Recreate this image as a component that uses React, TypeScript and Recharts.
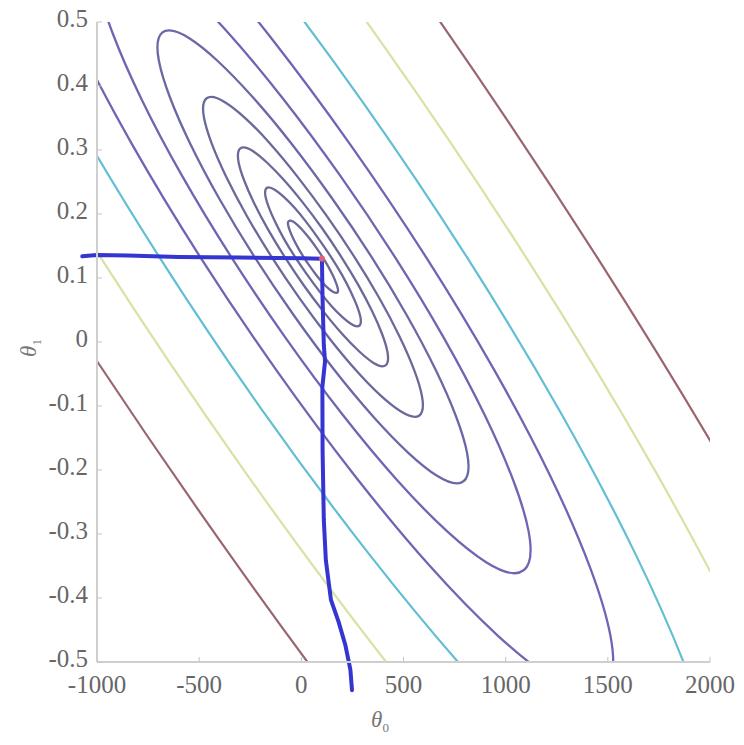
import { ComposedChart, Line, XAxis, YAxis, ReferenceDot } from "recharts";

// theta0 / theta1 points
const xTicks = [-1000, -500, 0, 500, 1000, 1500, 2000];
const yTicks = [-0.5, -0.4, -0.3, -0.2, -0.1, 0, 0.1, 0.2, 0.3, 0.4, 0.5];

const ring1 = [[172,0.076],[180,0.078],[180,0.083],[171,0.092],[155,0.104],[132,0.118],[104,0.133],[72,0.148],[40,0.162],[9,0.174],[-19,0.183],[-42,0.189],[-58,0.19],[-66,0.188],[-66,0.183],[-57,0.174],[-41,0.162],[-18,0.148],[10,0.133],[42,0.118],[74,0.104],[105,0.092],[133,0.083],[156,0.078]];
const ring2 = [[277,0.023],[292,0.027],[292,0.038],[275,0.055],[244,0.078],[200,0.105],[146,0.133],[86,0.161],[24,0.188],[-35,0.211],[-89,0.228],[-132,0.239],[-163,0.243],[-178,0.239],[-178,0.228],[-161,0.211],[-130,0.188],[-86,0.161],[-32,0.133],[28,0.105],[90,0.078],[149,0.055],[203,0.038],[246,0.027]];
const ring3 = [[401,-0.04],[426,-0.034],[425,-0.016],[399,0.011],[350,0.047],[281,0.089],[197,0.133],[103,0.178],[6,0.219],[-88,0.255],[-171,0.282],[-239,0.3],[-287,0.306],[-312,0.3],[-311,0.282],[-285,0.255],[-236,0.219],[-167,0.177],[-83,0.133],[11,0.088],[108,0.047],[202,0.011],[285,-0.016],[353,-0.034]];
const ring4 = [[561,-0.12],[597,-0.111],[596,-0.086],[558,-0.046],[486,0.007],[385,0.068],[262,0.133],[124,0.198],[-18,0.259],[-155,0.312],[-277,0.352],[-377,0.377],[-447,0.386],[-483,0.377],[-482,0.352],[-444,0.312],[-372,0.259],[-271,0.198],[-148,0.133],[-10,0.068],[132,0.007],[269,-0.046],[391,-0.086],[491,-0.111]];
const ring5 = [[771,-0.225],[821,-0.212],[820,-0.177],[766,-0.12],[665,-0.046],[521,0.041],[347,0.133],[152,0.225],[-49,0.312],[-243,0.386],[-416,0.443],[-557,0.479],[-657,0.491],[-707,0.478],[-706,0.443],[-652,0.386],[-551,0.312],[-407,0.225],[-233,0.133],[-38,0.041],[163,-0.046],[357,-0.12],[530,-0.177],[671,-0.213]];
const ring6 = [[1055,-0.367],[1126,-0.35],[1124,-0.3],[1049,-0.221],[907,-0.117],[707,0.004],[462,0.133],[190,0.262],[-91,0.383],[-362,0.487],[-605,0.566],[-802,0.616],[-941,0.633],[-1012,0.616],[-1010,0.566],[-935,0.487],[-793,0.383],[-593,0.262],[-348,0.133],[-76,0.004],[205,-0.117],[476,-0.221],[719,-0.3],[916,-0.35]];
const ring7 = [[1434,-0.557],[1532,-0.534],[1529,-0.465],[1426,-0.356],[1230,-0.212],[953,-0.045],[616,0.133],[240,0.311],[-148,0.478],[-522,0.622],[-856,0.731],[-1129,0.8],[-1320,0.823],[-1418,0.8],[-1415,0.731],[-1312,0.622],[-1116,0.478],[-839,0.311],[-502,0.133],[-126,-0.045],[262,-0.212],[636,-0.356],[970,-0.465],[1243,-0.534]];
const ring8 = [[1933,-0.807],[2066,-0.775],[2063,-0.681],[1922,-0.533],[1654,-0.337],[1278,-0.11],[818,0.133],[307,0.376],[-222,0.603],[-731,0.799],[-1187,0.947],[-1558,1.041],[-1819,1.073],[-1952,1.041],[-1949,0.947],[-1808,0.799],[-1540,0.603],[-1164,0.376],[-704,0.133],[-193,-0.11],[336,-0.337],[845,-0.533],[1301,-0.681],[1672,-0.775]];
const ring9 = [[2652,-1.167],[2836,-1.123],[2831,-0.993],[2637,-0.787],[2266,-0.517],[1746,-0.202],[1110,0.133],[403,0.468],[-329,0.783],[-1033,1.053],[-1664,1.259],[-2177,1.389],[-2538,1.433],[-2722,1.389],[-2717,1.259],[-2523,1.053],[-2152,0.783],[-1632,0.468],[-996,0.133],[-289,-0.202],[443,-0.517],[1147,-0.787],[1778,-0.993],[2291,-1.123]];
const ring10 = [[3520,-1.602],[3766,-1.543],[3759,-1.37],[3500,-1.095],[3006,-0.735],[2311,-0.315],[1462,0.133],[518,0.581],[-458,1.001],[-1398,1.361],[-2239,1.636],[-2924,1.809],[-3406,1.868],[-3652,1.809],[-3645,1.636],[-3386,1.361],[-2892,1.001],[-2197,0.581],[-1348,0.133],[-404,-0.315],[572,-0.735],[1512,-1.095],[2353,-1.37],[3038,-1.543]];

// hand drawn path: across at theta1 ~ 0.13, then down at theta0 ~ 100
const path = [[-1072,0.134],[-1000,0.136],[-850,0.135],[-600,0.133],[-300,0.132],[0,0.131],[101,0.13],[101,0.126],[104,0.066],[110,-0.005],[116,-0.03],[103,-0.07],[104,-0.169],[110,-0.278],[120,-0.341],[145,-0.403],[182,-0.437],[215,-0.473],[240,-0.512],[248,-0.544]];
const corner = [101, 0.13];

const rings = [ring1, ring2, ring3, ring4, ring5, ring6, ring7, ring8, ring9, ring10];
const ringColors = ["#6a699a", "#6a699a", "#6a699a", "#6a699c", "#6b68a6", "#6e66b2", "#6e66b4", "#62bfd3", "#d4e4a4", "#9a666e"];

const toRows = (pts: number[][]) => pts.map(([x, y]) => ({ x, y }));

const serif = "'Liberation Serif', 'DejaVu Serif', serif";
const tickStyle = { fill: "#676767", fontSize: 25, fontFamily: serif };

const xLabel = () => (
  <text x={380} y={727} textAnchor="middle" fill="#777" fontSize={23} fontStyle="italic" fontFamily={serif}>
    θ<tspan dy={5} fontSize={13} fontStyle="normal">0</tspan>
  </text>
);

const yLabel = () => (
  <text
    x={36}
    y={348}
    transform="rotate(-90 36 348)"
    textAnchor="middle"
    fill="#777"
    fontSize={23}
    fontStyle="italic"
    fontFamily={serif}
  >
    θ<tspan dy={5} fontSize={13} fontStyle="normal">1</tspan>
  </text>
);

export default function App() {
  return (
    <div style={{ width: 744, height: 745, margin: -8, fontFamily: serif }}>
      <style>{`.traj, .traj * { clip-path: none !important; }`}</style>
      <ComposedChart
        width={744}
        height={745}
        margin={{ top: 22, right: 34, bottom: 0, left: 0 }}
        style={{ fontFamily: serif }}
      >
        <XAxis
          type="number"
          dataKey="x"
          domain={[-1000, 2000]}
          ticks={xTicks}
          interval={0}
          allowDataOverflow
          height={83}
          tickSize={-5}
          tickMargin={18}
          axisLine={{ stroke: "#cfcfcf", strokeWidth: 2 }}
          tickLine={{ stroke: "#c4c4c4" }}
          tick={tickStyle}
          label={xLabel}
        />
        <YAxis
          type="number"
          dataKey="y"
          domain={[-0.5, 0.5]}
          ticks={yTicks}
          interval={0}
          allowDataOverflow
          width={97}
          tickSize={-5}
          tickMargin={14}
          tickFormatter={(v: number) => String(v)}
          axisLine={{ stroke: "#cfcfcf", strokeWidth: 2 }}
          tickLine={{ stroke: "#c4c4c4" }}
          tick={{ ...tickStyle, dy: -4 }}
          label={yLabel}
        />
        {rings.map((r, i) => (
          <Line
            key={i}
            data={toRows(r)}
            dataKey="y"
            type="basisClosed"
            stroke={ringColors[i]}
            strokeWidth={i >= 7 ? 2.2 : 2.3}
            dot={false}
            activeDot={false}
            isAnimationActive={false}
          />
        ))}
        <Line
          className="traj"
          data={toRows(path)}
          dataKey="y"
          type="linear"
          stroke="#3535d2"
          strokeWidth={4}
          strokeLinejoin="round"
          strokeLinecap="round"
          dot={false}
          activeDot={false}
          isAnimationActive={false}
        />
        <ReferenceDot x={corner[0]} y={corner[1]} r={3} fill="#e0607c" stroke="none" />
      </ComposedChart>
    </div>
  );
}
